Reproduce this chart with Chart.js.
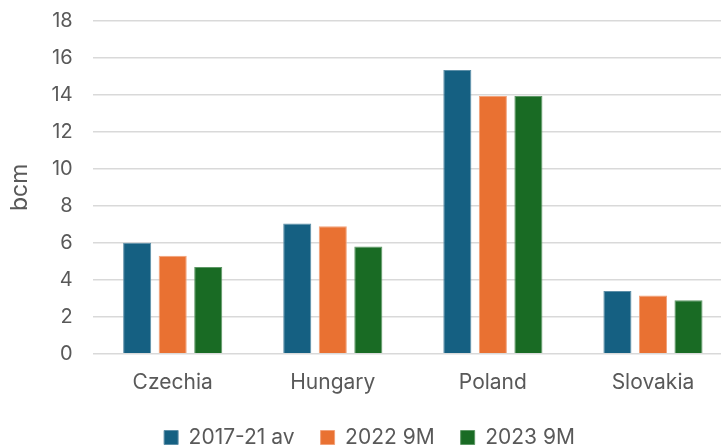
<!DOCTYPE html>
<html>
<head>
<meta charset="utf-8">
<script src="https://cdn.jsdelivr.net/npm/chart.js@4.4.0/dist/chart.umd.min.js"></script>
<style>
html,body{margin:0;padding:0;background:#fff;overflow:hidden;width:721px;height:448px;}
#wrap{position:absolute;left:0;top:0;width:742px;height:448px;}
</style>
</head>
<body>
<div id="wrap"><canvas id="c"></canvas></div>
<script>
const categories = ["Czechia", "Hungary", "Poland", "Slovakia"];
const avg2017_21 = [6.0, 7.05, 15.35, 3.4];
const nine2022 = [5.3, 6.9, 13.95, 3.15];
const nine2023 = [4.7, 5.8, 13.95, 2.9];
const seriesNames = ["2017-21 av", "2022 9M", "2023 9M"];
const yTicks = [0, 2, 4, 6, 8, 10, 12, 14, 16, 18];

const FONT = "Inter, Roboto, 'Liberation Sans', sans-serif";
const TXT = "#595959";

new Chart(document.getElementById('c'), {
  type: 'bar',
  data: {
    labels: categories,
    datasets: [
      {label: seriesNames[0], data: avg2017_21, backgroundColor: '#156082', borderColor: '#5d8fa8', borderWidth: 1},
      {label: seriesNames[1], data: nine2022, backgroundColor: '#e97132', borderColor: '#f2a27a', borderWidth: 1},
      {label: seriesNames[2], data: nine2023, backgroundColor: '#196b24', borderColor: '#5e9866', borderWidth: 1}
    ]
  },
  options: {
    responsive: true,
    maintainAspectRatio: false,
    animation: false,
    devicePixelRatio: 1,
    layout: {padding: {top: 21, right: 9, left: 6, bottom: -10}},
    datasets: {bar: {categoryPercentage: 0.666, barPercentage: 0.79}},
    plugins: {
      tooltip: {enabled: false},
      legend: {
        position: 'bottom',
        labels: {
          font: {family: FONT, size: 21},
          color: TXT,
          boxWidth: 14,
          boxHeight: 14,
          padding: 26,
          useBorderRadius: false
        }
      }
    },
    scales: {
      x: {
        grid: {display: false, drawTicks: false},
        border: {display: false},
        ticks: {font: {family: FONT, size: 21}, color: TXT, padding: 16},
        afterFit: (ax) => { ax.height -= 10; }
      },
      y: {
        min: 0, max: 18,
        afterBuildTicks: (ax) => { ax.ticks = yTicks.map(v => ({value: v})); },
        grid: {color: '#d9d9d9', lineWidth: 1.5, drawTicks: true, tickLength: 20, tickColor: 'rgba(0,0,0,0)'},
        border: {display: false},
        ticks: {font: {family: FONT, size: 20}, color: TXT, padding: 0},
        title: {display: true, text: 'bcm', font: {family: FONT, size: 23}, color: TXT, padding: {top: 0, bottom: 0}},
        afterFit: (ax) => { ax.width += 18; }
      }
    }
  }
});
</script>
</body>
</html>
